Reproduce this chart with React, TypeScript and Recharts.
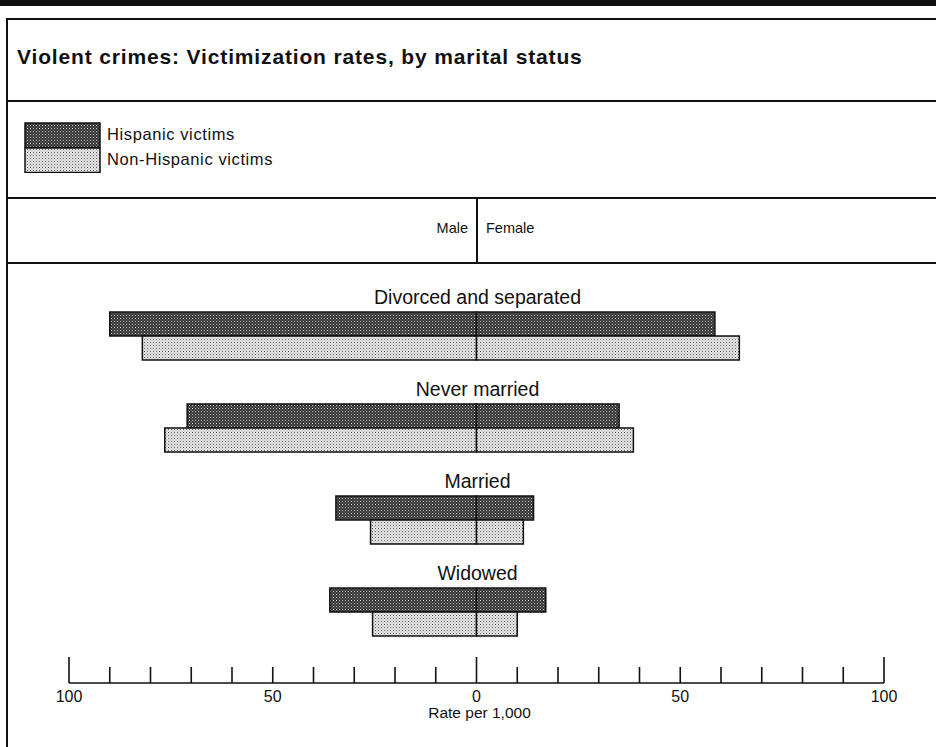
import React from 'react'
import { BarChart, Bar, XAxis, YAxis, LabelList } from 'recharts'

// values (rate per 1,000)
const categories = ['Divorced and separated', 'Never married', 'Married', 'Widowed']
const hispanicMale = [90, 71, 34.5, 36]
const hispanicFemale = [58.5, 35, 14, 17]
const nonHispanicMale = [82, 76.5, 26, 25.5]
const nonHispanicFemale = [64.5, 38.5, 11.5, 10]

const rateTicks = [-100, -90, -80, -70, -60, -50, -40, -30, -20, -10, 0, 10, 20, 30, 40, 50, 60, 70, 80, 90, 100]
const labeledTicks = [-100, -50, 0, 50, 100]
const tallTicks = [-100, 0, 100]

const W = 936
const H = 747
const MARGIN = { top: 290, right: 52, bottom: 24, left: 69 }
const PLOT_CENTER = MARGIN.left + (W - MARGIN.left - MARGIN.right) / 2
const FONT = 'Liberation Sans, Arial, Helvetica, sans-serif'

const data = categories.map((name, i) => ({
  name,
  hm: -hispanicMale[i],
  hf: hispanicFemale[i],
  nm: -nonHispanicMale[i],
  nf: nonHispanicFemale[i],
}))

// group title drawn above each pair of bars, centred on the zero line
const GroupLabel = (props: any) => {
  const { y, value } = props
  return (
    <text x={PLOT_CENTER + 1} y={y - 8} textAnchor="middle" fontSize={19.5} fontFamily={FONT} fill="#111">
      {value}
    </text>
  )
}

const RateTick = (props: any) => {
  const { x, y, payload } = props
  const v = payload.value
  const len = tallTicks.includes(v) ? 26 : 16
  return (
    <g>
      <line x1={x} x2={x} y1={y} y2={y - len} stroke="#111" strokeWidth={1.6} />
      {labeledTicks.includes(v) && (
        <text x={x} y={y + 19} textAnchor="middle" fontSize={16} fontFamily={FONT} fill="#111">
          {Math.abs(v)}
        </text>
      )}
    </g>
  )
}

const Patterns = ({ suffix }: { suffix: string }) => (
  <defs>
    <pattern id={'patDark' + suffix} patternUnits="userSpaceOnUse" width={3} height={3}>
      <rect width={3} height={3} fill="#363636" />
      <rect x={0} y={0} width={1} height={1} fill="#c8c8c8" />
      <rect x={1.5} y={1.5} width={1} height={1} fill="#8e8e8e" />
    </pattern>
    <pattern id={'patLight' + suffix} patternUnits="userSpaceOnUse" width={3} height={3}>
      <rect width={3} height={3} fill="#e6e6e6" />
      <rect x={0} y={0} width={1} height={1} fill="#5e5e5e" />
      <rect x={1.5} y={1.5} width={1} height={1} fill="#a0a0a0" />
    </pattern>
  </defs>
)

const legendItems = [
  { label: 'Hispanic victims', fill: 'url(#patDarkL)' },
  { label: 'Non-Hispanic victims', fill: 'url(#patLightL)' },
]

const hLine = (top: number, thick = 1.5) => (
  <div style={{ position: 'absolute', left: 6, right: 0, top, height: thick, background: '#111' }} />
)

export default function App() {
  return (
    <div style={{ position: 'absolute', left: 0, top: 0, width: W, height: H, background: '#fff', overflow: 'hidden' }}>
      <div style={{ position: 'absolute', left: 0, right: 0, top: 0, height: 6, background: '#111' }} />
      {hLine(18)}
      {hLine(100)}
      {hLine(197)}
      {hLine(262)}
      <div style={{ position: 'absolute', left: 6, top: 18, bottom: 0, width: 1.5, background: '#111' }} />
      <div style={{ position: 'absolute', left: 476, top: 197, height: 65, width: 1.5, background: '#111' }} />
      <div style={{ position: 'absolute', left: 17, top: 45, fontFamily: FONT, fontWeight: 'bold', fontSize: 21, letterSpacing: 0.85, color: '#111' }}>
        Violent crimes: Victimization rates, by marital status
      </div>

      {/* legend */}
      <div style={{ position: 'absolute', left: 24, top: 122, display: 'flex', fontFamily: FONT, fontSize: 16.5, letterSpacing: 0.6, color: '#111' }}>
        <svg width={77} height={51} style={{ display: 'block' }}>
          <Patterns suffix="L" />
          {legendItems.map((d, i) => (
            <rect key={d.label} x={1} y={1 + i * 25} width={75} height={24.5} fill={d.fill} stroke="#111" strokeWidth={1.5} />
          ))}
        </svg>
        <div style={{ marginLeft: 6, lineHeight: '25px' }}>
          {legendItems.map((d) => (
            <div key={d.label}>{d.label}</div>
          ))}
        </div>
      </div>

      <div style={{ position: 'absolute', right: W - 468, top: 220, fontFamily: FONT, fontSize: 14.5, color: '#111' }}>Male</div>
      <div style={{ position: 'absolute', left: 486, top: 220, fontFamily: FONT, fontSize: 14.5, color: '#111' }}>Female</div>

      <div style={{ position: 'absolute', left: 0, width: W, top: 0 }}>
        <BarChart
          width={W}
          height={H}
          data={data}
          layout="vertical"
          stackOffset="sign"
          margin={MARGIN}
          barGap={0}
          barSize={24}
        >
          <Patterns suffix="" />
          <XAxis
            type="number"
            domain={[-100, 100]}
            ticks={rateTicks}
            interval={0}
            height={40}
            tickSize={0}
            tickMargin={0}
            tickLine={false}
            axisLine={{ stroke: '#111', strokeWidth: 1.6 }}
            tick={<RateTick />}
          />
          <YAxis type="category" dataKey="name" hide padding={{ top: 0, bottom: 25 }} />
          <Bar dataKey="hm" stackId="h" fill="url(#patDark)" stroke="#111" strokeWidth={1.5} isAnimationActive={false}>
            <LabelList dataKey="name" content={<GroupLabel />} />
          </Bar>
          <Bar dataKey="hf" stackId="h" fill="url(#patDark)" stroke="#111" strokeWidth={1.5} isAnimationActive={false} />
          <Bar dataKey="nm" stackId="n" fill="url(#patLight)" stroke="#111" strokeWidth={1.5} isAnimationActive={false} />
          <Bar dataKey="nf" stackId="n" fill="url(#patLight)" stroke="#111" strokeWidth={1.5} isAnimationActive={false} />
        </BarChart>
      </div>
      <div style={{ position: 'absolute', left: 0, width: PLOT_CENTER * 2 + 6, top: 704, textAlign: 'center', fontFamily: FONT, fontSize: 15.5, color: '#111' }}>
        Rate per 1,000
      </div>
    </div>
  )
}
